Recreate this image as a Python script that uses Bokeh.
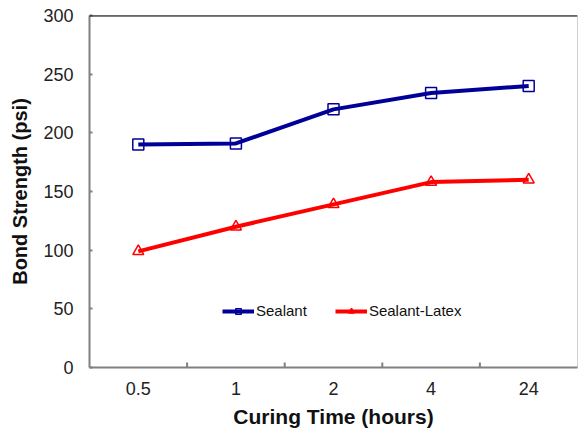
from bokeh.plotting import figure, ColumnDataSource
from bokeh.models import FactorRange, Range1d, Span, Legend, LegendItem, FixedTicker
from bokeh.transform import dodge
from bokeh.embed import file_html
from bokeh.resources import INLINE

categories = ["0.5", "1", "2", "4", "24"]
sealant = [190, 191, 220, 234, 240]
sealant_latex = [99, 120, 139, 158, 160]
y_ticks = [0, 50, 100, 150, 200, 250, 300]
y_min, y_max = 0, 300

FONT = "Liberation Sans"
BLUE = "#000099"
RED = "#FF0000"
AXIS_GRAY = "#808080"

p = figure(x_range=FactorRange(*categories), y_range=Range1d(y_min, y_max),
           width=579, height=432, frame_width=488, frame_height=352,
           min_border_left=89, min_border_right=2, min_border_top=15, min_border_bottom=65,
           output_backend="svg", toolbar_location=None, tools="")
p.background_fill_color = "white"
p.border_fill_color = "white"
p.outline_line_color = "#d0d0d0"
p.outline_line_width = 1
p.xgrid.grid_line_color = None
p.ygrid.grid_line_color = None

src = ColumnDataSource(dict(x=categories, s=sealant, sl=sealant_latex))

l1 = p.line("x", "s", source=src, line_color=BLUE, line_width=4)
m1 = p.scatter("x", "s", source=src, marker="square", size=11, line_color=BLUE,
               line_width=1.5, fill_color=None)
l2 = p.line("x", "sl", source=src, line_color=RED, line_width=4)
m2 = p.scatter("x", "sl", source=src, marker="triangle", size=11, line_color=RED,
               line_width=1.5, fill_color=None)

# top border
p.add_layout(Span(location=y_max, dimension="width", line_color="black", line_width=2))

# x tick marks at category boundaries (inward)
tsrc = ColumnDataSource(dict(x=categories[:-1]))
p.segment(x0=dodge("x", 0.5, range=p.x_range), y0=0,
          x1=dodge("x", 0.5, range=p.x_range), y1=4.3,
          source=tsrc, line_color=AXIS_GRAY, line_width=2)

# axes
xa = p.xaxis[0]
xa.axis_line_color = AXIS_GRAY
xa.axis_line_width = 2
xa.major_tick_line_color = None
xa.minor_tick_line_color = None
xa.major_label_standoff = 8
xa.major_label_text_font = FONT
xa.major_label_text_font_size = "18px"
xa.major_label_text_color = "#222222"
xa.axis_label = "Curing Time (hours)"
xa.axis_label_text_font = FONT
xa.axis_label_text_font_size = "21px"
xa.axis_label_text_font_style = "bold"
xa.axis_label_text_color = "#111111"
xa.axis_label_standoff = 7

ya = p.yaxis[0]
ya.ticker = FixedTicker(ticks=y_ticks)
ya.axis_line_color = AXIS_GRAY
ya.axis_line_width = 2
ya.major_tick_line_color = AXIS_GRAY
ya.major_tick_line_width = 2
ya.major_tick_in = 3
ya.major_tick_out = 0
ya.minor_tick_line_color = None
ya.major_label_standoff = 16
ya.major_label_text_font = FONT
ya.major_label_text_font_size = "18px"
ya.major_label_text_color = "#222222"
ya.axis_label = "Bond Strength (psi)"
ya.axis_label_text_font = FONT
ya.axis_label_text_font_size = "20px"
ya.axis_label_text_font_style = "bold"
ya.axis_label_text_color = "#111111"
ya.axis_label_standoff = 9

legend = Legend(items=[LegendItem(label="Sealant", renderers=[l1, m1]),
                       LegendItem(label="Sealant-Latex", renderers=[l2, m2])],
                location=(133, 48), orientation="horizontal",
                label_text_font=FONT, label_text_font_size="15px", label_text_color="#111111",
                glyph_width=32, glyph_height=14, label_height=14, label_standoff=2,
                spacing=28, padding=0, margin=0,
                border_line_color=None, background_fill_alpha=0)
p.add_layout(legend)

open("out.html", "w").write(file_html(p, INLINE))
